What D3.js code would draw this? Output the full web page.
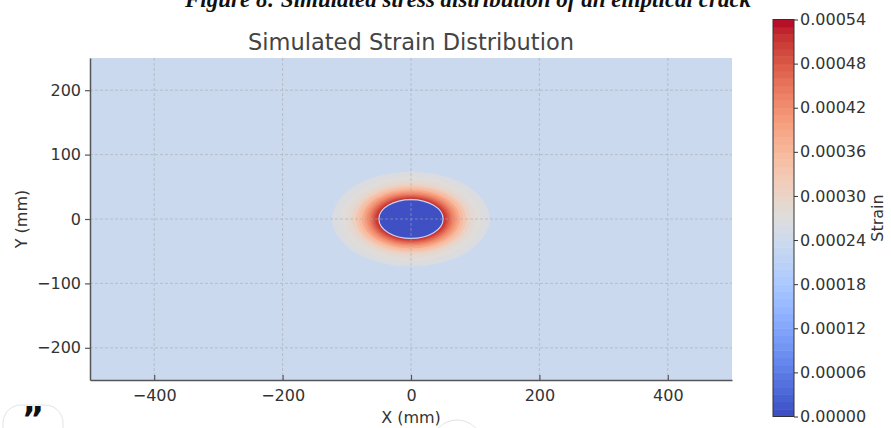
<!DOCTYPE html>
<html>
<head>
<meta charset="utf-8">
<script src="https://cdn.jsdelivr.net/npm/d3@7"></script>
<style>
  body { margin: 0; background: #fff; }
  svg { display: block; font-family: "DejaVu Sans", sans-serif; }
</style>
</head>
<body>
<svg width="891" height="428"></svg>
<script>
  // ticks
  const xTicks = [-400, -200, 0, 200, 400];
  const yTicks = [-200, -100, 0, 100, 200];
  const strainTicks = [0, 0.00006, 0.00012, 0.00018, 0.00024, 0.0003, 0.00036, 0.00042, 0.00048, 0.00054];

  // field: elliptical hole (semi-axes in mm) and strain rings around it
  const holeAxes = [50, 30];
  const holeStrain = 0;
  const farStrain = 0.00023;
  const ringRho = [2.45, 2.2, 2.0, 1.85, 1.72, 1.62, 1.52, 1.44, 1.37, 1.3, 1.24, 1.18, 1.12, 1.06];
  const ringStrain = [0.000262, 0.000272, 0.00029, 0.00031, 0.00033, 0.00035, 0.00038, 0.0004, 0.00042, 0.00044, 0.00046, 0.00048, 0.0005, 0.00052];

  const strainMax = 0.00054;
  const levelStep = 0.00001;

  // matplotlib coolwarm (Moreland) stops
  const cwStops = [
    [59,76,192],[68,90,204],[77,104,215],[87,117,225],[98,130,234],[108,142,241],[119,154,247],[130,165,251],
    [141,176,254],[152,185,255],[163,194,255],[174,201,253],[184,208,249],[194,213,244],[204,217,238],[213,219,230],
    [221,221,221],[229,216,209],[236,211,197],[241,204,185],[245,196,173],[247,187,160],[247,177,148],[247,166,135],
    [244,154,123],[241,141,111],[236,127,99],[229,112,88],[222,96,77],[213,80,66],[203,62,56],[192,40,47],[180,4,38]
  ];
  const coolwarm = d3.scaleLinear()
    .domain(cwStops.map((d, i) => i / (cwStops.length - 1)))
    .range(cwStops.map(c => d3.rgb(c[0], c[1], c[2])))
    .clamp(true);
  const bandColor = v => {
    const k = Math.min(Math.floor(v / levelStep), Math.round(strainMax / levelStep) - 1);
    return coolwarm(((k + 0.5) * levelStep) / strainMax);
  };

  const svg = d3.select("svg");
  const plot = { left: 90, right: 732, top: 58, bottom: 380 };
  const x = d3.scaleLinear().domain([-500, 500]).range([plot.left, plot.right]);
  const y = d3.scaleLinear().domain([-250, 250]).range([plot.bottom, plot.top]);

  // caption of the page, cut by the top edge as in the screenshot
  svg.append("text")
    .attr("x", 185).attr("y", 7)
    .attr("font-family", "Liberation Serif")
    .attr("font-style", "italic").attr("font-weight", "bold")
    .attr("font-size", 23).attr("fill", "#111")
    .text("Figure 8: Simulated stress distribution of an elliptical crack");

  svg.append("defs").append("clipPath").attr("id", "clip")
    .append("rect")
    .attr("x", plot.left).attr("y", plot.top)
    .attr("width", plot.right - plot.left).attr("height", plot.bottom - plot.top);

  const field = svg.append("g").attr("clip-path", "url(#clip)");
  field.append("rect")
    .attr("x", plot.left).attr("y", plot.top)
    .attr("width", plot.right - plot.left).attr("height", plot.bottom - plot.top)
    .attr("fill", bandColor(farStrain));

  field.selectAll("ellipse.ring")
    .data(ringRho.map((r, i) => ({ r, v: ringStrain[i] })))
    .join("ellipse")
    .attr("class", "ring")
    .attr("cx", x(0)).attr("cy", y(0))
    .attr("rx", d => x(holeAxes[0] * d.r) - x(0))
    .attr("ry", d => y(0) - y(holeAxes[1] * d.r))
    .attr("fill", d => bandColor(d.v));

  field.append("ellipse")
    .attr("cx", x(0)).attr("cy", y(0))
    .attr("rx", x(holeAxes[0]) - x(0))
    .attr("ry", y(0) - y(holeAxes[1]))
    .attr("fill", bandColor(holeStrain))
    .attr("stroke", "#c9d3f2").attr("stroke-width", 1.2);

  // grid
  const grid = svg.append("g")
    .attr("stroke", "#a8a8a8").attr("stroke-width", 0.8)
    .attr("stroke-dasharray", "3,2").attr("opacity", 0.7);
  grid.selectAll("line.gx").data(xTicks).join("line")
    .attr("x1", d => x(d)).attr("x2", d => x(d))
    .attr("y1", plot.top).attr("y2", plot.bottom);
  grid.selectAll("line.gy").data(yTicks).join("line")
    .attr("y1", d => y(d)).attr("y2", d => y(d))
    .attr("x1", plot.left).attr("x2", plot.right);

  // axes
  const xAxis = svg.append("g")
    .attr("transform", `translate(0,${plot.bottom})`)
    .call(d3.axisBottom(x).tickValues(xTicks).tickSizeInner(-5).tickSizeOuter(0).tickPadding(10));
  const yAxis = svg.append("g")
    .attr("transform", `translate(${plot.left},0)`)
    .call(d3.axisLeft(y).tickValues(yTicks).tickSizeInner(5).tickSizeOuter(0).tickPadding(4));
  [xAxis, yAxis].forEach(a => {
    a.select(".domain").attr("stroke", "#555").attr("stroke-width", 1.5);
    a.selectAll(".tick line").attr("stroke", "#555").attr("stroke-width", 1.2);
    a.selectAll("text")
      .attr("font-family", "DejaVu Sans").attr("font-size", 16).attr("fill", "#333")
      .text(d => d3.format("")(d).replace("-", "\u2212"));
  });

  svg.append("text")
    .attr("x", x(0)).attr("y", 50)
    .attr("text-anchor", "middle")
    .attr("font-size", 22.5).attr("fill", "#444")
    .text("Simulated Strain Distribution");
  svg.append("text")
    .attr("x", x(0)).attr("y", 423)
    .attr("text-anchor", "middle")
    .attr("font-size", 16).attr("fill", "#333")
    .text("X (mm)");
  svg.append("text")
    .attr("transform", `translate(27,${y(0)}) rotate(-90)`)
    .attr("text-anchor", "middle")
    .attr("font-size", 16).attr("fill", "#333")
    .text("Y (mm)");

  // colorbar
  const cb = { left: 773, width: 21, top: 19.5, bottom: 416.5 };
  const cbY = d3.scaleLinear().domain([0, strainMax]).range([cb.bottom, cb.top]);
  const levels = d3.range(0, Math.round(strainMax / levelStep)).map(k => k * levelStep);
  svg.append("g").selectAll("rect").data(levels).join("rect")
    .attr("x", cb.left).attr("width", cb.width)
    .attr("y", d => cbY(d + levelStep))
    .attr("height", d => cbY(d) - cbY(d + levelStep) + 0.5)
    .attr("fill", d => bandColor(d + levelStep / 2));
  svg.append("rect")
    .attr("x", cb.left).attr("y", cb.top)
    .attr("width", cb.width).attr("height", cb.bottom - cb.top)
    .attr("fill", "none").attr("stroke", "#333").attr("stroke-width", 1);
  const cbAxis = svg.append("g")
    .attr("transform", `translate(${cb.left + cb.width},0)`)
    .call(d3.axisRight(cbY).tickValues(strainTicks).tickSizeInner(4).tickSizeOuter(0).tickPadding(2)
      .tickFormat(d => d.toFixed(5)));
  cbAxis.select(".domain").remove();
  cbAxis.selectAll(".tick line").attr("stroke", "#333");
  cbAxis.selectAll("text").attr("font-family", "DejaVu Sans").attr("font-size", 16).attr("fill", "#333");
  svg.append("text")
    .attr("transform", `translate(883,${(cb.top + cb.bottom) / 2}) rotate(-90)`)
    .attr("text-anchor", "middle")
    .attr("font-size", 16).attr("fill", "#333")
    .text("Strain");

  // page decorations at the bottom of the screenshot
  svg.append("rect")
    .attr("x", 3).attr("y", 405).attr("width", 60).attr("height", 50).attr("rx", 18)
    .attr("fill", "#fff").attr("stroke", "#e3e3e3");
  svg.append("text")
    .attr("x", 33).attr("y", 431).attr("text-anchor", "middle")
    .attr("font-family", "DejaVu Sans").attr("font-weight", "bold")
    .attr("font-size", 34).attr("fill", "#111")
    .text("\u201D");
  svg.append("circle")
    .attr("cx", 457).attr("cy", 446).attr("r", 26)
    .attr("fill", "none").attr("stroke", "#e3e3e3");
</script>
</body>
</html>
